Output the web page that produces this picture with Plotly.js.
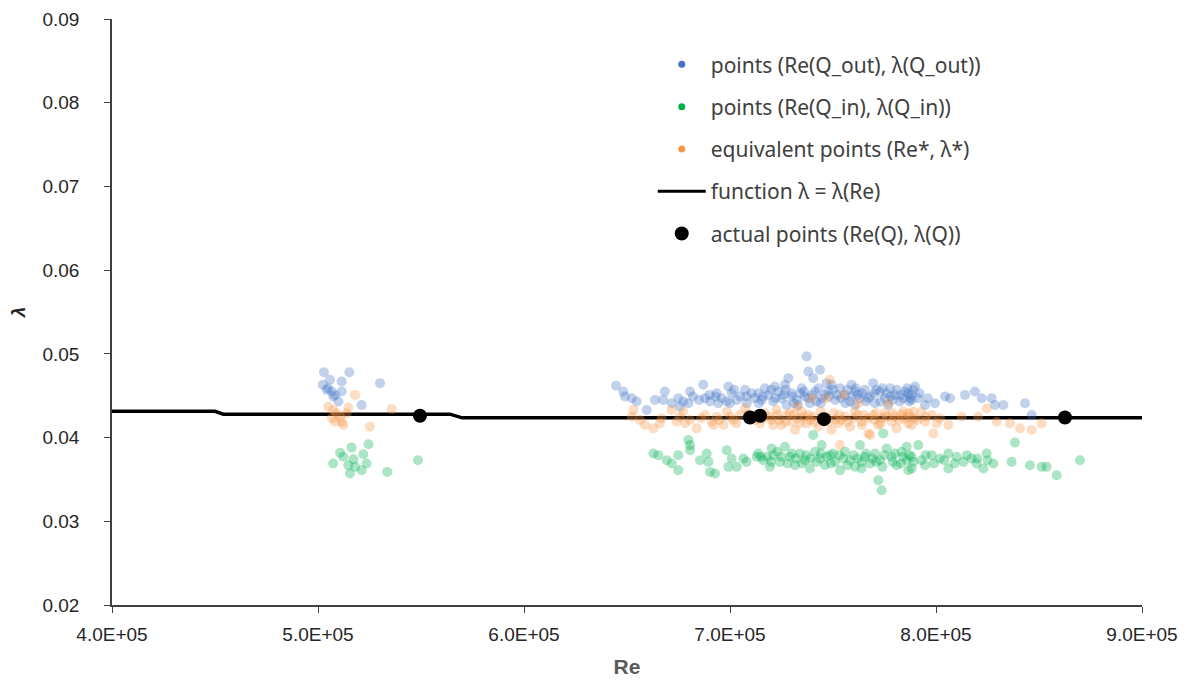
<!DOCTYPE html>
<html>
<head>
<meta charset="utf-8">
<script src="https://cdn.plot.ly/plotly-3.0.1.min.js"></script>
<style>html,body{margin:0;padding:0;background:#fff;}#chart{width:1191px;height:684px;}</style>
</head>
<body>
<div id="chart"></div>
<script>
// Data: [Re, lambda]
const outPts = [
[5.029e5,0.0478],[5.152e5,0.0478],[5.115e5,0.0467],[5.301e5,0.0465],[5.023e5,0.0463],[5.049e5,0.0459],[5.067e5,0.0455],[5.115e5,0.0455],[5.074e5,0.0449],[5.099e5,0.0443],[5.212e5,0.0439],[5.042e5,0.0457],[5.058e5,0.0469],[5.083e5,0.0451],
[6.447e5,0.0462],[6.482e5,0.0455],[6.49e5,0.0449],[6.523e5,0.0447],[6.547e5,0.0443],[6.596e5,0.0433],[6.636e5,0.0445],[6.684e5,0.0455],[6.676e5,0.0445],[6.717e5,0.0441],[6.749e5,0.0447],[6.773e5,0.0443],[6.806e5,0.0455],[6.798e5,0.0441],[6.87e5,0.0463],[6.879e5,0.0447],[6.903e5,0.0443],[6.935e5,0.0453],[6.943e5,0.0441],[6.992e5,0.0461],[7.008e5,0.0453],[6.984e5,0.0443],[7.033e5,0.0445],[7.073e5,0.0457],[7.105e5,0.0453],[7.081e5,0.0441],[6.757e5,0.0437],
[7.372e5,0.0497],[7.38e5,0.0479],[7.437e5,0.0481],[7.283e5,0.0471],[7.404e5,0.0471],[7.469e5,0.0465],[7.695e5,0.0465],[7.267e5,0.0463],[7.17e5,0.0459],
[7.137e5,0.0453],[7.154e5,0.0445],[7.186e5,0.0451],[7.21e5,0.0443],[7.234e5,0.0455],[7.251e5,0.0447],[7.275e5,0.0439],[7.299e5,0.0453],[7.324e5,0.0445],[7.348e5,0.0459],[7.364e5,0.0449],[7.388e5,0.0441],[7.413e5,0.0455],[7.445e5,0.0447],[7.477e5,0.0455],[7.51e5,0.0445],[7.534e5,0.0459],[7.558e5,0.0451],[7.583e5,0.0443],[7.607e5,0.0455],[7.631e5,0.0447],[7.655e5,0.0457],[7.68e5,0.0449],[7.704e5,0.0441],[7.728e5,0.0455],[7.752e5,0.0447],[7.777e5,0.0459],[7.801e5,0.0451],[7.825e5,0.0443],[7.85e5,0.0455],[7.874e5,0.0447],[7.89e5,0.0457],[7.218e5,0.0461],[7.493e5,0.0463],[7.59e5,0.0463],[7.768e5,0.0439],[7.607e5,0.0439],
[7.16e5,0.0449],[7.2e5,0.0457],[7.26e5,0.0451],[7.31e5,0.0441],[7.34e5,0.0453],[7.38e5,0.0447],[7.42e5,0.0443],[7.46e5,0.0451],[7.5e5,0.0457],[7.54e5,0.0447],[7.57e5,0.0457],[7.62e5,0.0451],[7.66e5,0.0443],[7.7e5,0.0453],[7.74e5,0.0459],[7.79e5,0.0445],[7.83e5,0.0451],[7.87e5,0.0443],[7.12e5,0.0447],[7.05e5,0.0449],[7.0e5,0.0441],[6.96e5,0.0447],[6.9e5,0.0451],
[7.14e5,0.0441],[7.22e5,0.0447],[7.27e5,0.0457],[7.3e5,0.0449],[7.33e5,0.0439],[7.36e5,0.0455],[7.4e5,0.0451],[7.43e5,0.0459],[7.44e5,0.0441],[7.48e5,0.0449],[7.52e5,0.0451],[7.56e5,0.0441],[7.59e5,0.0449],[7.61e5,0.0459],[7.64e5,0.0453],[7.67e5,0.0447],[7.71e5,0.0457],[7.73e5,0.0443],[7.76e5,0.0453],[7.78e5,0.0449],[7.81e5,0.0457],[7.84e5,0.0447],[7.86e5,0.0459],[7.88e5,0.0451],[7.92e5,0.0453],[7.96e5,0.0447],[7.08e5,0.0449],[7.02e5,0.0457],[6.93e5,0.0449],[6.85e5,0.0445],[6.82e5,0.0449],
[7.898e5,0.0461],[7.866e5,0.0453],[7.914e5,0.0447],[7.947e5,0.0439],[7.882e5,0.0445],[7.995e5,0.0441],[8.044e5,0.0449],[8.068e5,0.0447],[8.141e5,0.0451],[8.189e5,0.0455],[8.222e5,0.0447],[8.27e5,0.0447],[8.286e5,0.0439],[8.327e5,0.0439],[8.432e5,0.0441],[8.464e5,0.0427]
];
const inPts = [
[5.245e5,0.0392],[5.163e5,0.0388],[5.107e5,0.0382],[5.22e5,0.0380],[5.123e5,0.0377],[5.074e5,0.0369],[5.172e5,0.0374],[5.236e5,0.0369],[5.147e5,0.0367],[5.18e5,0.0365],[5.212e5,0.0361],[5.155e5,0.0357],[5.336e5,0.0359],[5.485e5,0.0373],
[6.798e5,0.0397],[6.806e5,0.0385],[6.628e5,0.0381],[6.652e5,0.0379],[6.693e5,0.0373],[6.749e5,0.0379],[6.717e5,0.0369],[6.749e5,0.0361],[6.854e5,0.0373],[6.887e5,0.0381],[6.895e5,0.0371],[6.903e5,0.0359],[6.927e5,0.0357],[6.984e5,0.0385],[7.008e5,0.0375],[6.992e5,0.0365],[7.033e5,0.0365],[7.065e5,0.0375],[7.13e5,0.0377],[6.806e5,0.0391],
[7.72e5,0.0349],[7.736e5,0.0337],[7.404e5,0.0403],[7.744e5,0.0405],
[7.137e5,0.0381],[7.162e5,0.0373],[7.194e5,0.0365],[7.21e5,0.0379],[7.243e5,0.0371],[7.267e5,0.0389],[7.291e5,0.0377],[7.316e5,0.0367],[7.34e5,0.0381],[7.364e5,0.0373],[7.388e5,0.0363],[7.413e5,0.0383],[7.437e5,0.0375],[7.461e5,0.0367],[7.485e5,0.0379],[7.51e5,0.0371],[7.534e5,0.0361],[7.558e5,0.0383],[7.583e5,0.0373],[7.607e5,0.0365],[7.631e5,0.0391],[7.655e5,0.0377],[7.68e5,0.0369],[7.704e5,0.0381],[7.728e5,0.0373],[7.761e5,0.0387],[7.785e5,0.0377],[7.809e5,0.0367],[7.833e5,0.0383],[7.858e5,0.0373],[7.882e5,0.0363],[7.202e5,0.0387],[7.445e5,0.0391],[7.639e5,0.0363],
[7.18e5,0.0377],[7.23e5,0.0383],[7.28e5,0.0369],[7.32e5,0.0375],[7.37e5,0.0379],[7.42e5,0.0371],[7.47e5,0.0377],[7.5e5,0.0381],[7.55e5,0.0375],[7.6e5,0.0379],[7.64e5,0.0371],[7.69e5,0.0375],[7.74e5,0.0365],[7.79e5,0.0371],[7.84e5,0.0377],[7.87e5,0.0379],
[7.15e5,0.0377],[7.2e5,0.0371],[7.25e5,0.0377],[7.3e5,0.0381],[7.35e5,0.0369],[7.39e5,0.0375],[7.44e5,0.0381],[7.49e5,0.0369],[7.53e5,0.0379],[7.57e5,0.0367],[7.62e5,0.0375],[7.66e5,0.0381],[7.71e5,0.0371],[7.75e5,0.0379],[7.8e5,0.0381],[7.83e5,0.0369],[7.89e5,0.0371],[7.95e5,0.0379],[7.99e5,0.0369],[8.04e5,0.0373],[8.09e5,0.0369],[8.15e5,0.0379],[8.2e5,0.0375],[8.25e5,0.0373],[7.08e5,0.0371],
[7.858e5,0.0389],[7.914e5,0.0391],[7.882e5,0.0377],[7.93e5,0.0373],[7.866e5,0.0361],[7.979e5,0.0379],[8.019e5,0.0375],[8.06e5,0.0381],[8.1e5,0.0377],[8.133e5,0.0371],[8.173e5,0.0375],[8.197e5,0.0369],[8.246e5,0.0381],[8.23e5,0.0363],[8.278e5,0.0369],[8.06e5,0.0363],[8.383e5,0.0394],[8.367e5,0.0371],[8.456e5,0.0367],[8.513e5,0.0365],[8.537e5,0.0365],[8.586e5,0.0355],[8.699e5,0.0373],[7.947e5,0.0367]
];
const eqPts = [
[5.18e5,0.0451],[5.358e5,0.0434],[5.05e5,0.0437],[5.074e5,0.0433],[5.147e5,0.0436],[5.067e5,0.0423],[5.107e5,0.0425],[5.123e5,0.0415],[5.252e5,0.0413],[5.091e5,0.0429],[5.139e5,0.0429],[5.083e5,0.0419],[5.115e5,0.0419],
[6.531e5,0.0433],[6.523e5,0.0425],[6.563e5,0.0421],[6.587e5,0.0415],[6.628e5,0.0411],[6.668e5,0.0423],[6.717e5,0.0433],[6.757e5,0.0425],[6.782e5,0.0417],[6.806e5,0.0421],[6.838e5,0.0411],[6.879e5,0.0427],[6.911e5,0.0419],[6.935e5,0.0425],[6.968e5,0.0415],[6.984e5,0.0431],[7.016e5,0.0421],[7.048e5,0.0427],[7.073e5,0.0435],[6.772e5,0.0431],[7.087e5,0.0428],[7.121e5,0.0421],
[7.485e5,0.0469],[7.55e5,0.0451],[7.396e5,0.0447],[7.469e5,0.0447],[7.324e5,0.0437],[7.768e5,0.0441],[7.623e5,0.0441],[7.534e5,0.0391],[7.68e5,0.0403],
[7.146e5,0.0417],[7.17e5,0.0429],[7.202e5,0.0421],[7.226e5,0.0433],[7.251e5,0.0415],[7.275e5,0.0427],[7.299e5,0.0419],[7.348e5,0.0431],[7.372e5,0.0417],[7.404e5,0.0425],[7.429e5,0.0413],[7.502e5,0.0429],[7.526e5,0.0417],[7.558e5,0.0425],[7.583e5,0.0413],[7.607e5,0.0431],[7.639e5,0.0419],[7.672e5,0.0405],[7.695e5,0.0427],[7.72e5,0.0415],[7.752e5,0.0429],[7.785e5,0.0419],[7.809e5,0.0411],[7.833e5,0.0427],[7.866e5,0.0417],[7.89e5,0.0431],[7.316e5,0.0409],[7.493e5,0.0409],
[7.19e5,0.0425],[7.24e5,0.0421],[7.29e5,0.0429],[7.33e5,0.0423],[7.36e5,0.0425],[7.39e5,0.0421],[7.45e5,0.0425],[7.48e5,0.0419],[7.54e5,0.0421],[7.6e5,0.0423],[7.65e5,0.0427],[7.7e5,0.0421],[7.74e5,0.0423],[7.8e5,0.0425],[7.85e5,0.0423],[7.03e5,0.0417],[6.95e5,0.0421],[6.86e5,0.0423],[6.74e5,0.0419],
[7.13e5,0.0427],[7.16e5,0.0423],[7.21e5,0.0415],[7.23e5,0.0427],[7.27e5,0.0419],[7.31e5,0.0427],[7.34e5,0.0417],[7.38e5,0.0427],[7.41e5,0.0419],[7.44e5,0.0431],[7.47e5,0.0423],[7.51e5,0.0421],[7.53e5,0.0427],[7.57e5,0.0419],[7.62e5,0.0427],[7.64e5,0.0415],[7.67e5,0.0423],[7.71e5,0.0429],[7.73e5,0.0417],[7.76e5,0.0425],[7.79e5,0.0429],[7.82e5,0.0421],[7.84e5,0.0431],[7.87e5,0.0425],[7.91e5,0.0421],[7.95e5,0.0425],[8.02e5,0.0423],[7.0e5,0.0425],[6.92e5,0.0415],[6.66e5,0.0417],
[7.866e5,0.0429],[7.898e5,0.0423],[7.93e5,0.0431],[7.947e5,0.0419],[7.979e5,0.0427],[8.003e5,0.0417],[7.987e5,0.0405],[7.882e5,0.0415],[8.06e5,0.0415],[8.125e5,0.0425],[8.246e5,0.0435],[8.205e5,0.0425],[8.294e5,0.0419],[8.359e5,0.0417],[8.408e5,0.0411],[8.464e5,0.0409],[8.513e5,0.0417]
];
const funcRe  = [4.0e5, 4.5e5, 4.54e5, 5.64e5, 5.70e5, 9.0e5];
const funcLam = [0.04314, 0.04314, 0.0428, 0.0428, 0.04236, 0.04236];
const actRe  = [5.495e5, 7.097e5, 7.146e5, 7.456e5, 8.626e5];
const actLam = [0.0426, 0.0424, 0.0426, 0.0422, 0.0424];

const xTickVals   = [4e5, 5e5, 6e5, 7e5, 8e5, 9e5];
const xTickLabels = ['4.0E+05','5.0E+05','6.0E+05','7.0E+05','8.0E+05','9.0E+05'];

const names = ['points (Re(Q_out), \u03bb(Q_out))','points (Re(Q_in), \u03bb(Q_in))','equivalent points (Re*, \u03bb*)','function \u03bb = \u03bb(Re)','actual points (Re(Q), \u03bb(Q))'];
const BLUE='rgb(68,114,196)', GREEN='rgb(0,176,80)', ORANGE='rgb(247,150,70)';

const col = (a,i)=>a.map(p=>p[i]);
const scat = (pts,c,g)=>({x:col(pts,0),y:col(pts,1),type:'scatter',mode:'markers',showlegend:false,legendgroup:g,
  marker:{color:c,size:10,opacity:0.33,line:{width:0}},hoverinfo:'x+y'});

const traces = [
  {x:funcRe,y:funcLam,type:'scatter',mode:'lines',line:{color:'#000',width:3.5},showlegend:false,legendgroup:'g4'},
  scat(outPts,BLUE,'g1'),
  scat(inPts,GREEN,'g2'),
  scat(eqPts,ORANGE,'g3'),
  {x:actRe,y:actLam,type:'scatter',mode:'markers',marker:{color:'#000',size:14},showlegend:false,legendgroup:'g5'},
  // legend entries
  {x:[null],y:[null],type:'scatter',mode:'markers',marker:{color:BLUE,size:7},name:names[0],legendgroup:'g1'},
  {x:[null],y:[null],type:'scatter',mode:'markers',marker:{color:GREEN,size:7},name:names[1],legendgroup:'g2'},
  {x:[null],y:[null],type:'scatter',mode:'markers',marker:{color:ORANGE,size:7},name:names[2],legendgroup:'g3'},
  {x:[null],y:[null],type:'scatter',mode:'lines',line:{color:'#000',width:3},name:names[3],legendgroup:'g4'},
  {x:[null],y:[null],type:'scatter',mode:'markers',marker:{color:'#000',size:14},name:names[4],legendgroup:'g5'}
];

const layout = {
  width:1191,height:684,
  margin:{l:112,r:49,t:19,b:79},
  paper_bgcolor:'#fff',plot_bgcolor:'#fff',
  font:{family:'Liberation Sans, Arial, sans-serif',color:'#262626'},
  showlegend:true,
  legend:{x:0.525,y:0.957,xanchor:'left',yanchor:'top',bgcolor:'rgba(0,0,0,0)',
    font:{family:'Noto Sans, Open Sans, sans-serif',size:21,color:'#404040'},
    tracegroupgap:12,itemsizing:'trace',traceorder:'grouped',itemwidth:48},
  xaxis:{range:[4e5,9e5],tickvals:xTickVals,ticktext:xTickLabels,showgrid:false,zeroline:false,
    showline:true,linecolor:'#404040',linewidth:1.5,ticks:'outside',ticklen:6,tickcolor:'#404040',
    ticklabelstandoff:5,
    tickfont:{size:19,color:'#262626',family:'Liberation Sans, Arial, sans-serif'},
    title:{text:'<b>Re</b>',font:{size:21,color:'#595959'},standoff:16}},
  yaxis:{range:[0.02,0.09],dtick:0.01,tickformat:'.2f',showgrid:false,zeroline:false,
    showline:true,linecolor:'#404040',linewidth:1.5,ticks:'outside',ticklen:6,tickcolor:'#404040',
    ticklabelstandoff:21,
    tickfont:{size:19,color:'#262626'},
    title:{text:'<b><i>\u03bb</i></b>',font:{size:19,color:'#262626'},standoff:12}}
};
Plotly.newPlot('chart',traces,layout,{displayModeBar:false});
</script>
</body>
</html>
